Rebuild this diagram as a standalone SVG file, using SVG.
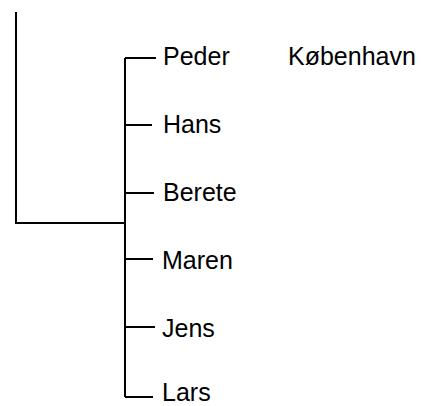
<svg xmlns="http://www.w3.org/2000/svg" width="422" height="406" viewBox="0 0 422 406">
<style>
.ln{stroke:#000;stroke-width:2;fill:none}
.t{font-family:"Liberation Sans",Arial,sans-serif;font-size:25px;fill:#000}
</style>
<rect width="422" height="406" fill="#fff"/>
<g id="connectors">
<path class="ln" d="M16,12 V223 H125"/>
<path class="ln" d="M125,58 V397"/>
<path class="ln" d="M125,58 H156"/>
<path class="ln" d="M125,125 H152"/>
<path class="ln" d="M125,193 H154"/>
<path class="ln" d="M125,259 H153"/>
<path class="ln" d="M125,327 H155"/>
<path class="ln" d="M125,397 H153"/>
</g>
<g id="peder"><text class="t" x="163" y="65">Peder</text></g>
<g id="kobenhavn"><text class="t" x="288" y="65">København</text></g>
<g id="hans"><text class="t" x="163" y="133">Hans</text></g>
<g id="berete"><text class="t" x="163" y="201">Berete</text></g>
<g id="maren"><text class="t" x="162" y="269">Maren</text></g>
<g id="jens"><text class="t" x="162" y="337">Jens</text></g>
<g id="lars"><text class="t" x="162" y="401">Lars</text></g>
</svg>
